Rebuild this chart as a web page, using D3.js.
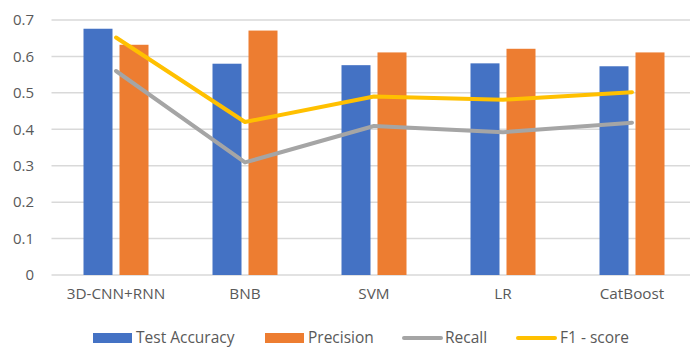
<!DOCTYPE html>
<html><head><meta charset="utf-8">
<script src="https://cdn.jsdelivr.net/npm/d3@7"></script>
<style>
html,body{margin:0;padding:0;background:#fff;}
svg{display:block;font-family:"Open Sans","Liberation Sans",sans-serif;}
</style></head>
<body><svg id="chart" width="693" height="347"></svg>
<script>
const categories = ["3D-CNN+RNN","BNB","SVM","LR","CatBoost"];
const testAccuracy = [0.676,0.580,0.576,0.581,0.573];
const precision = [0.632,0.671,0.611,0.621,0.611];
const recall = [0.56,0.309,0.409,0.392,0.418];
const f1score = [0.652,0.42,0.49,0.481,0.502];
const yTicks = [0,0.1,0.2,0.3,0.4,0.5,0.6,0.7];
const seriesNames = ["Test Accuracy","Precision","Recall","F1 - score"];

const colors = {blue:"#4472C4", orange:"#ED7D31", gray:"#A5A5A5", yellow:"#FFC000"};
const svg = d3.select("#chart");
const plotLeft = 51.5, plotRight = 696.5, plotTop = 20, plotBottom = 275;

const x = d3.scaleBand().domain(categories).range([plotLeft, plotRight]).paddingInner(0).paddingOuter(0);
const y = d3.scaleLinear().domain([0,0.7]).range([plotBottom, plotTop]);

// gridlines
svg.append("g").selectAll("line").data(yTicks).join("line")
  .attr("x1", plotLeft).attr("x2", 690)
  .attr("y1", d=>y(d)).attr("y2", d=>y(d))
  .attr("stroke", "#d9d9d9").attr("stroke-width", 1.5);

// y axis labels
const yAxis = d3.axisLeft(y).tickValues(yTicks).tickSize(0).tickPadding(0)
  .tickFormat(d => d===0 ? "0" : d3.format(".1f")(d));
const ya = svg.append("g").attr("transform", `translate(${34},0)`).call(yAxis);
ya.select(".domain").remove();
ya.selectAll("text").attr("fill","#595959").style("font-size","15px").style("font-family","'Open Sans','Liberation Sans',sans-serif");

// x axis labels
const xAxis = d3.axisBottom(x).tickSize(0).tickPadding(0);
const xa = svg.append("g").attr("transform", `translate(0,${288})`).call(xAxis);
xa.select(".domain").remove();
xa.selectAll("text").attr("fill","#595959").style("font-size","15.3px").style("font-family","'Open Sans','Liberation Sans',sans-serif");

const barW = 29, gap = 7;
const center = c => x(c) + x.bandwidth()/2;

svg.append("g").selectAll("rect").data(categories).join("rect")
  .attr("x", c => center(c) - gap/2 - barW)
  .attr("width", barW)
  .attr("y", (c,i) => y(testAccuracy[i]))
  .attr("height", (c,i) => y(0) - y(testAccuracy[i]))
  .attr("fill", colors.blue);
svg.append("g").selectAll("rect").data(categories).join("rect")
  .attr("x", c => center(c) + gap/2)
  .attr("width", barW)
  .attr("y", (c,i) => y(precision[i]))
  .attr("height", (c,i) => y(0) - y(precision[i]))
  .attr("fill", colors.orange);

const line = d3.line().x((d,i)=>center(categories[i])).y(d=>y(d));
svg.append("path").datum(recall).attr("d", line).attr("fill","none")
  .attr("stroke", colors.gray).attr("stroke-width", 4).attr("stroke-linejoin","round").attr("stroke-linecap","round");
svg.append("path").datum(f1score).attr("d", line).attr("fill","none")
  .attr("stroke", colors.yellow).attr("stroke-width", 4).attr("stroke-linejoin","round").attr("stroke-linecap","round");

// legend
const legend = svg.append("g");
const items = [
  {name:seriesNames[0], type:"rect", color:colors.blue, x:93, tx:136},
  {name:seriesNames[1], type:"rect", color:colors.orange, x:265, tx:308},
  {name:seriesNames[2], type:"line", color:colors.gray, x:402, tx:445},
  {name:seriesNames[3], type:"line", color:colors.yellow, x:516, tx:560}
];
const ly = 338;
items.forEach(it => {
  if (it.type === "rect") {
    legend.append("rect").attr("x", it.x).attr("y", ly-5).attr("width", 39).attr("height", 10).attr("fill", it.color);
  } else {
    legend.append("line").attr("x1", it.x+2).attr("x2", it.x+39).attr("y1", ly).attr("y2", ly)
      .attr("stroke", it.color).attr("stroke-width", 4).attr("stroke-linecap","round");
  }
  legend.append("text").attr("x", it.tx).attr("y", ly).attr("dy","0.35em")
    .attr("fill","#595959").style("font-size","15.5px").text(it.name);
});
</script></body></html>
